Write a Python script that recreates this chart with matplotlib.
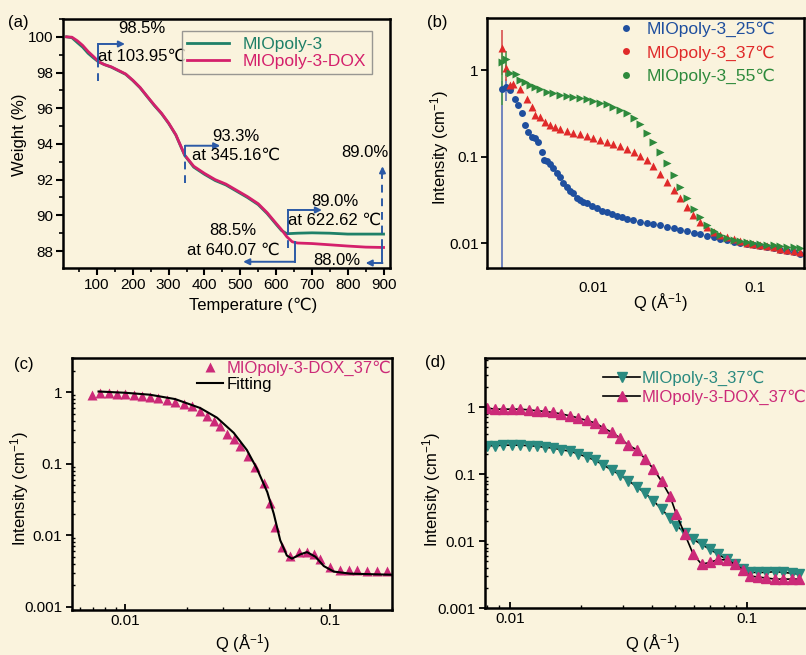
import matplotlib
matplotlib.use("Agg")
import matplotlib.pyplot as plt
from matplotlib.lines import Line2D
from matplotlib.ticker import MultipleLocator, LogLocator, NullFormatter

plt.rcParams['font.family'] = ['Liberation Sans', 'DejaVu Sans']
plt.rcParams['mathtext.fontset'] = 'custom'
plt.rcParams['mathtext.rm'] = 'Liberation Sans'
plt.rcParams['mathtext.default'] = 'regular'

BG = '#faf3dd'
BLUE_ANN = '#2c5aa6'
GREEN_A = '#1f8068'
RED_A = '#d4206b'
PINK = '#cc2a78'
TEAL = '#2a8a80'
C25 = '#1f4f9e'
C37 = '#e02a2a'
C55 = '#2e8a3c'

# ---- (a) TGA ----
temp_green = [15, 30, 45, 60, 75, 90, 104, 120, 140, 160, 180, 200, 220, 240, 260, 280,
              300, 320, 345, 370, 400, 430, 460, 490, 520, 550, 575, 600, 615, 630,
              660, 700, 750, 800, 850, 900]
weight_green = [100.0, 99.95, 99.68, 99.42, 99.08, 98.82, 98.6, 98.45, 98.3, 98.1, 97.9,
                97.55, 97.15, 96.65, 96.15, 95.7, 95.15, 94.5, 93.35, 92.7, 92.3, 91.95,
                91.7, 91.35, 91.0, 90.6, 90.1, 89.5, 89.15, 88.97,
                89.0, 89.02, 89.0, 88.95, 88.95, 88.95]
temp_red = [15, 30, 45, 60, 75, 90, 104, 120, 140, 160, 180, 200, 220, 240, 260, 280,
            300, 320, 345, 370, 400, 430, 460, 490, 520, 550, 575, 600, 615, 630,
            645, 660, 700, 750, 800, 850, 900]
weight_red = [100.0, 99.98, 99.78, 99.52, 99.18, 98.9, 98.62, 98.45, 98.32, 98.12, 97.92,
              97.57, 97.17, 96.67, 96.18, 95.72, 95.17, 94.52, 93.37, 92.75, 92.35, 92.0,
              91.75, 91.4, 91.05, 90.65, 90.15, 89.55, 89.2, 88.8,
              88.52, 88.45, 88.42, 88.35, 88.28, 88.22, 88.2]

# ---- (b) SANS at three temperatures ----
q25 = [0.00271, 0.00288, 0.00306, 0.00328, 0.00344, 0.00360, 0.00378, 0.00396, 0.00416,
       0.00436, 0.00457, 0.00479, 0.00495, 0.00514, 0.00540, 0.00566, 0.00593, 0.00622,
       0.00652, 0.00684, 0.00717, 0.00752, 0.00788, 0.00827, 0.00867, 0.00909, 0.00976,
       0.01048, 0.01126, 0.01209, 0.01298, 0.01394, 0.01497, 0.01607, 0.01768, 0.01944,
       0.02138, 0.02350, 0.02585, 0.02842, 0.03125, 0.03436, 0.03778, 0.04154, 0.04567,
       0.05022, 0.05521, 0.06070, 0.06674, 0.07338, 0.08068, 0.08871, 0.09753, 0.1072,
       0.1179, 0.1296, 0.1425, 0.1567, 0.1723, 0.1895]
i25 = [0.60, 0.64, 0.59, 0.459, 0.395, 0.316, 0.232, 0.194, 0.170, 0.163, 0.149, 0.114,
       0.0916, 0.0899, 0.0822, 0.0733, 0.0642, 0.0588, 0.0492, 0.0451, 0.0405, 0.0384,
       0.0330, 0.0316, 0.0303, 0.0290, 0.0270, 0.0254, 0.0238, 0.0228, 0.0218, 0.0207,
       0.0200, 0.0191, 0.0186, 0.0178, 0.0173, 0.0167, 0.0161, 0.0156, 0.0149, 0.0143,
       0.0138, 0.0133, 0.0127, 0.0123, 0.0117, 0.0113, 0.0109, 0.0105, 0.0102, 0.0098,
       0.0096, 0.0093, 0.0091, 0.0088, 0.0085, 0.0082, 0.0079, 0.0075]
q37 = [0.00271, 0.00288, 0.00303, 0.00320, 0.00352, 0.00387, 0.00416, 0.00436, 0.00468,
       0.00502, 0.00540, 0.00579, 0.00622, 0.00684, 0.00752, 0.00827, 0.00909, 0.0100,
       0.0110, 0.0121, 0.0133, 0.0146, 0.0161, 0.0177, 0.0194, 0.0214, 0.0235, 0.0259,
       0.0284, 0.0313, 0.0344, 0.0378, 0.0415, 0.0457, 0.0502, 0.0552, 0.0607, 0.0667,
       0.0734, 0.0807, 0.0887, 0.0975, 0.1072, 0.1179, 0.1296, 0.1425, 0.1567, 0.1723,
       0.1895]
i37 = [1.78, 1.05, 0.67, 0.70, 0.61, 0.47, 0.38, 0.30, 0.29, 0.254, 0.232, 0.218, 0.212,
       0.200, 0.189, 0.183, 0.173, 0.163, 0.156, 0.149, 0.142, 0.133, 0.123, 0.114,
       0.103, 0.092, 0.078, 0.064, 0.0515, 0.041, 0.033, 0.0265, 0.0212, 0.0178, 0.0153,
       0.0137, 0.0125, 0.0117, 0.0111, 0.0106, 0.0102, 0.0099, 0.0096, 0.0093, 0.0090,
       0.0087, 0.0084, 0.0081, 0.0079]
q55 = [0.00271, 0.00288, 0.00306, 0.00330, 0.00350, 0.00378, 0.00406, 0.00436, 0.00468,
       0.00514, 0.00566, 0.00622, 0.00684, 0.00752, 0.00827, 0.00909, 0.0100, 0.0110,
       0.0121, 0.0133, 0.0146, 0.0161, 0.0177, 0.01944, 0.02138, 0.0235, 0.02585,
       0.02842, 0.03125, 0.03436, 0.03778, 0.04154, 0.04567, 0.05022, 0.05521, 0.0607,
       0.06674, 0.07338, 0.0807, 0.0887, 0.0975, 0.1072, 0.1179, 0.1296, 0.1425, 0.1567,
       0.1723, 0.1895]
i55 = [1.25, 1.36, 0.915, 0.90, 0.77, 0.733, 0.671, 0.631, 0.598, 0.562, 0.538, 0.515,
       0.501, 0.484, 0.471, 0.459, 0.443, 0.420, 0.402, 0.377, 0.345, 0.316, 0.277,
       0.242, 0.186, 0.149, 0.114, 0.084, 0.0614, 0.045, 0.033, 0.025, 0.020, 0.0163,
       0.0140, 0.0125, 0.0115, 0.0110, 0.0106, 0.0103, 0.0101, 0.0099, 0.0097, 0.0095,
       0.0093, 0.0091, 0.0090, 0.0088]
err_q = [0.00271, 0.00288]
err_i25 = [0.60, 0.64]
err_lo25 = [0.599, 0.2]
err_hi25 = [0.15, 0.15]
err_i37 = [1.78, 1.05]
err_lo37 = [0.9, 0.3]
err_hi37 = [1.1, 0.3]
err_i55 = [1.25, 1.36]
err_lo55 = [0.85, 0.5]
err_hi55 = [0.5, 0.3]

# ---- (c) DOX-loaded at 37 C with fit ----
qc = [0.00688, 0.00755, 0.0083, 0.0091, 0.0100, 0.0110, 0.0121, 0.0132, 0.0145,
      0.0160, 0.0175, 0.0193, 0.0211, 0.0232, 0.0250, 0.0270, 0.0290, 0.0313, 0.0338,
      0.0364, 0.0399, 0.0431, 0.0473, 0.0510, 0.0539, 0.0580, 0.0636, 0.0700, 0.0770,
      0.0830, 0.0894, 0.1000, 0.112, 0.123, 0.135, 0.151, 0.169, 0.19]
ic = [0.90, 0.97, 0.97, 0.95, 0.93, 0.91, 0.89, 0.85, 0.82, 0.78, 0.73, 0.69, 0.63,
      0.55, 0.47, 0.40, 0.34, 0.26, 0.22, 0.174, 0.13, 0.090, 0.053, 0.028, 0.013,
      0.0069, 0.0052, 0.0059, 0.0058, 0.0055, 0.0047, 0.0036, 0.0033, 0.0033, 0.0033,
      0.0032, 0.0032, 0.0032]
q_fit = [0.00741, 0.0100, 0.0132, 0.0175, 0.0232, 0.0280, 0.0338, 0.0392, 0.0439,
         0.0493, 0.0530, 0.0570, 0.0614, 0.0650, 0.0714, 0.0770, 0.0846, 0.0930,
         0.104, 0.125, 0.2]
i_fit = [1.02, 0.98, 0.92, 0.80, 0.60, 0.44, 0.27, 0.155, 0.085, 0.040, 0.020, 0.0085,
         0.0052, 0.0047, 0.0054, 0.0058, 0.0050, 0.0037, 0.0031, 0.0029, 0.0028]

# ---- (d) with / without DOX at 37 C ----
qd = [0.0080, 0.00864, 0.00937, 0.0102, 0.0110, 0.0120, 0.0130, 0.0141, 0.0152, 0.0165,
      0.0179, 0.0194, 0.0211, 0.0229, 0.0248, 0.0269, 0.0292, 0.0316, 0.0343, 0.0372,
      0.0403, 0.0437, 0.0474, 0.0505, 0.0548, 0.0595, 0.0645, 0.0700, 0.0760, 0.0823,
      0.0892, 0.0968, 0.103, 0.112, 0.121, 0.132, 0.143, 0.155, 0.167]
id_dox = [0.97, 0.93, 0.93, 0.93, 0.93, 0.91, 0.88, 0.86, 0.83, 0.79, 0.74, 0.69, 0.63,
          0.58, 0.49, 0.42, 0.345, 0.27, 0.23, 0.17, 0.12, 0.078, 0.047, 0.025, 0.0126,
          0.0063, 0.0045, 0.0048, 0.0053, 0.0052, 0.0045, 0.0037, 0.0030, 0.0029,
          0.0028, 0.0027, 0.0027, 0.0027, 0.0027]
id_blank = [0.265, 0.265, 0.27, 0.27, 0.27, 0.265, 0.26, 0.25, 0.245, 0.23, 0.22, 0.20,
            0.18, 0.16, 0.137, 0.115, 0.097, 0.080, 0.065, 0.052, 0.040, 0.030, 0.022,
            0.017, 0.0133, 0.0106, 0.0089, 0.0075, 0.0063, 0.0053, 0.0045, 0.0038,
            0.0034, 0.0034, 0.0034, 0.0035, 0.0034, 0.0033, 0.0032]

W, H = 806, 655
fig = plt.figure(figsize=(W / 100, H / 100), dpi=100, facecolor=BG)


def px_axes(left, top, right, bottom):
    ax = fig.add_axes([left / W, 1 - bottom / H, (right - left) / W, (bottom - top) / H])
    ax.set_facecolor(BG)
    for s in ax.spines.values():
        s.set_linewidth(1.8)
    return ax


def place_labels(ax, box, xl, yl):
    # box = (left, top, right, bottom) px; xl/yl = label centre px
    l, t, r, b = box
    ax.xaxis.set_label_coords((xl[0] - l) / (r - l), (b - xl[1]) / (b - t))
    ax.xaxis.label.set_verticalalignment('center')
    ax.yaxis.set_label_coords((yl[0] - l) / (r - l), (b - yl[1]) / (b - t))
    ax.yaxis.label.set_verticalalignment('center')


def log_style(ax):
    ax.xaxis.set_minor_locator(LogLocator(subs=range(2, 10)))
    ax.yaxis.set_minor_locator(LogLocator(subs=range(2, 10)))
    ax.xaxis.set_minor_formatter(NullFormatter())
    ax.yaxis.set_minor_formatter(NullFormatter())
    ax.tick_params(which='major', length=4, width=1.3, labelsize=11, pad=3)
    ax.tick_params(axis='x', which='both', direction='in')
    ax.tick_params(axis='y', which='major', direction='out')
    ax.tick_params(axis='y', which='minor', direction='in', length=2.5, width=1)
    ax.tick_params(axis='x', which='minor', length=2.5, width=1)


log_ticks = [0.001, 0.01, 0.1, 1]
log_labels = ['0.001', '0.01', '0.1', '1']

# ================= (a) =================
box_a = (63, 19, 390, 268)
ax = px_axes(*box_a)
ax.plot(temp_green, weight_green, color=GREEN_A, lw=2.0, label='MIOpoly-3')
ax.plot(temp_red, weight_red, color=RED_A, lw=2.0, label='MIOpoly-3-DOX')
ax.set_xlim(5, 918)
ax.set_ylim(87.05, 101.0)
ax.set_xticks(range(100, 901, 100))
ax.set_yticks(range(88, 101, 2))
ax.xaxis.set_minor_locator(MultipleLocator(50))
ax.yaxis.set_minor_locator(MultipleLocator(1))
ax.tick_params(which='major', direction='out', length=5, width=1.5, labelsize=11, pad=2)
ax.tick_params(which='minor', direction='out', length=3, width=1.2)
ax.set_xlabel('Temperature (℃)', fontsize=12)
ax.set_ylabel('Weight (%)', fontsize=12)
place_labels(ax, box_a, (253, 305), (20, 135))
leg = ax.legend(loc='upper left', bbox_to_anchor=(0.364, 0.95), fontsize=12.5,
                frameon=True, fancybox=False, edgecolor='#808080', handlelength=2.4,
                handletextpad=0.8, labelspacing=0.12, borderpad=0.3, borderaxespad=0,
                labelcolor='linecolor')
leg.get_frame().set_facecolor(BG)
leg.get_frame().set_linewidth(1.0)


def arrow(ax, start, end):
    ax.annotate('', xy=end, xytext=start,
                arrowprops=dict(arrowstyle='-|>', color=BLUE_ANN, lw=1.4,
                                mutation_scale=9, shrinkA=0, shrinkB=0))


dash = (0, (4, 3))
# 98.5 % at 103.95
ax.plot([104, 104], [98.6, 99.6], color=BLUE_ANN, lw=1.4)
ax.plot([104, 104], [97.5, 98.6], color=BLUE_ANN, lw=1.4, ls=dash)
arrow(ax, (104, 99.6), (178, 99.6))
ax.text(226, 100.45, '98.5%', ha='center', va='center', fontsize=12)
ax.text(226, 98.93, 'at 103.95℃', ha='center', va='center', fontsize=12)
# 93.3 % at 345.16
ax.plot([346, 346], [93.35, 93.9], color=BLUE_ANN, lw=1.4)
ax.plot([346, 346], [91.8, 93.35], color=BLUE_ANN, lw=1.4, ls=dash)
arrow(ax, (346, 93.9), (444, 93.9))
ax.text(489, 94.4, '93.3%', ha='center', va='center', fontsize=12)
ax.text(489, 93.35, 'at 345.16℃', ha='center', va='center', fontsize=12)
# 89.0 % at 622.62
ax.plot([633, 633], [88.97, 90.3], color=BLUE_ANN, lw=1.4)
ax.plot([633, 633], [88.15, 88.97], color=BLUE_ANN, lw=1.4, ls=dash)
arrow(ax, (633, 90.3), (728, 90.3))
ax.text(763, 90.75, '89.0%', ha='center', va='center', fontsize=12)
ax.text(763, 89.7, 'at 622.62 ℃', ha='center', va='center', fontsize=12)
# 88.5 % at 640.07
ax.plot([652, 652], [87.4, 88.5], color=BLUE_ANN, lw=1.4)
arrow(ax, (652, 87.4), (508, 87.4))
ax.text(480, 89.15, '88.5%', ha='center', va='center', fontsize=12)
ax.text(480, 88.05, 'at 640.07 ℃', ha='center', va='center', fontsize=12)
# residues at 900
ax.plot([897, 897], [87.33, 88.2], color=BLUE_ANN, lw=1.4)
ax.plot([897, 897], [88.2, 92.4], color=BLUE_ANN, lw=1.4, ls=dash)
arrow(ax, (897, 92.3), (897, 92.75))
ax.text(847, 93.5, '89.0%', ha='center', va='center', fontsize=12)
arrow(ax, (897, 87.33), (850, 87.33))
ax.text(769, 87.45, '88.0%', ha='center', va='center', fontsize=12)

# ================= (b) =================
box_b = (487, 18, 804, 268)
ax = px_axes(*box_b)
ax.errorbar(err_q, err_i25, yerr=[err_lo25, err_hi25], fmt='none', ecolor='#5b72b8', elinewidth=1.2)
ax.errorbar(err_q, err_i37, yerr=[err_lo37, err_hi37], fmt='none', ecolor='#d85050', elinewidth=1.2)
ax.errorbar(err_q, err_i55, yerr=[err_lo55, err_hi55], fmt='none', ecolor='#4a9a50', elinewidth=1.2)
ax.plot(q25, i25, ls='none', marker='o', ms=5, color=C25, mec='none')
ax.plot(q37, i37, ls='none', marker='^', ms=5.5, color=C37, mec='none')
ax.plot(q55, i55, ls='none', marker='>', ms=5.5, color=C55, mec='none')
ax.set_xscale('log')
ax.set_yscale('log')
ax.set_xlim(0.0022, 0.2)
ax.set_ylim(0.0052, 4.0)
ax.set_xticks([0.01, 0.1], labels=['0.01', '0.1'])
ax.set_yticks(log_ticks[1:], labels=log_labels[1:])
ax.minorticks_off()
ax.tick_params(axis='x', length=0, labelsize=11, pad=9)
ax.tick_params(axis='y', direction='out', length=4, width=1.3, labelsize=11, pad=2)
ax.set_xlabel('Q (Å$^{-1}$)', fontsize=12)
ax.set_ylabel('Intensity (cm$^{-1}$)', fontsize=12)
place_labels(ax, box_b, (660, 303), (440, 148))
handles_b = [Line2D([], [], ls='none', marker='o', ms=5, color=c, mec='none')
             for c in (C25, C37, C55)]
ax.legend(handles_b, ['MIOpoly-3_25℃', 'MIOpoly-3_37℃', 'MIOpoly-3_55℃'],
          loc='upper left', bbox_to_anchor=(0.41, 0.985), frameon=False, fontsize=12.5,
          handlelength=1.0, handletextpad=0.7, labelspacing=0.45, borderpad=0,
          borderaxespad=0, labelcolor=[C25, C37, C55])

# ================= (c) =================
box_c = (72, 358, 392, 610)
ax = px_axes(*box_c)
ax.plot(qc, ic, ls='none', marker='^', ms=7, color=PINK, mec='none',
        label='MIOpoly-3-DOX_37℃')
ax.plot(q_fit, i_fit, color='black', lw=1.5, label='Fitting')
ax.set_xscale('log')
ax.set_yscale('log')
ax.set_xlim(0.0055, 0.2)
ax.set_ylim(0.0009, 3.0)
ax.set_xticks([0.01, 0.1], labels=['0.01', '0.1'])
ax.set_yticks(log_ticks, labels=log_labels)
log_style(ax)
ax.set_xlabel('Q (Å$^{-1}$)', fontsize=12)
ax.set_ylabel('Intensity (cm$^{-1}$)', fontsize=12)
place_labels(ax, box_c, (242, 644), (20, 489))
ax.legend(loc='upper left', bbox_to_anchor=(0.39, 0.99), frameon=False, fontsize=12,
          handlelength=1.6, handletextpad=0.2, labelspacing=0.05, borderpad=0,
          borderaxespad=0, labelcolor=[PINK, 'black'])

# ================= (d) =================
box_d = (485, 358, 818, 608)
ax = px_axes(*box_d)
ax.plot(qd, id_blank, color='black', lw=1.2, marker='v', ms=6.5, mfc=TEAL, mec=TEAL,
        label='MIOpoly-3_37℃')
ax.plot(qd, id_dox, color='black', lw=1.2, marker='^', ms=6.5, mfc=PINK, mec=PINK,
        label='MIOpoly-3-DOX_37℃')
ax.set_xscale('log')
ax.set_yscale('log')
ax.set_xlim(0.00785, 0.2)
ax.set_ylim(0.001, 5.4)
ax.set_xticks([0.01, 0.1], labels=['0.01', '0.1'])
ax.set_yticks(log_ticks, labels=log_labels)
log_style(ax)
ax.set_xlabel('Q (Å$^{-1}$)', fontsize=12)
ax.set_ylabel('Intensity (cm$^{-1}$)', fontsize=12)
place_labels(ax, box_d, (652, 644), (432, 490))
ax.legend(loc='upper left', bbox_to_anchor=(0.355, 0.95), frameon=False, fontsize=12,
          handlelength=2.2, handletextpad=0.1, labelspacing=0.2, borderpad=0,
          borderaxespad=0, labelcolor=[TEAL, PINK])

for txt, x, y in [('(a)', 18, 23), ('(b)', 437, 23), ('(c)', 24, 364), ('(d)', 435, 362)]:
    fig.text(x / W, 1 - y / H, txt, fontsize=12, ha='center', va='center')

fig.savefig('out.png', dpi=100, facecolor=BG)
